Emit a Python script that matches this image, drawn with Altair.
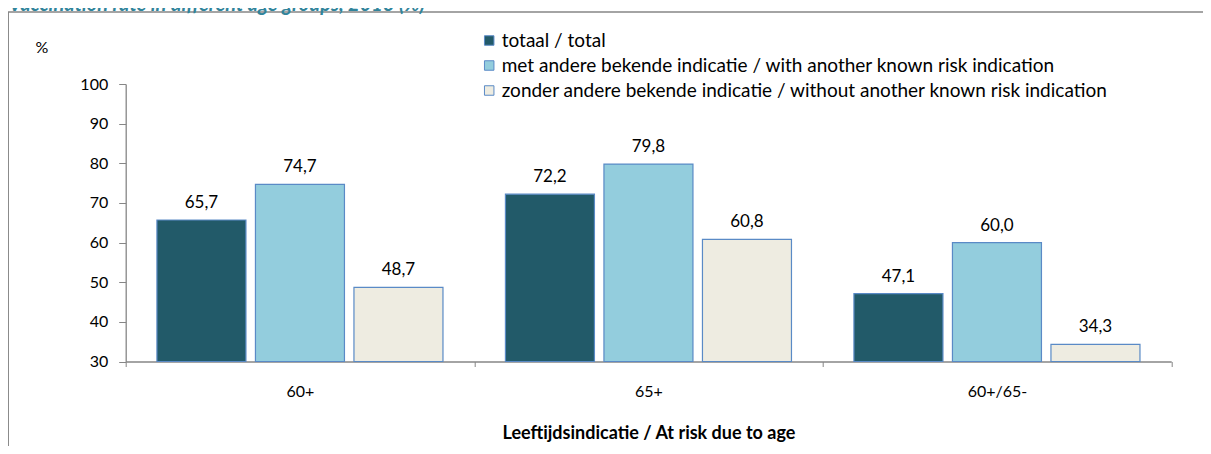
import altair as alt
import pandas as pd

categories = ["60+", "65+", "60+/65-"]
series = [
    "totaal / total",
    "met andere bekende indicatie / with another known risk indication",
    "zonder andere bekende  indicatie / without another known risk indication",
]
totaal = [65.7, 72.2, 47.1]
met = [74.7, 79.8, 60.0]
zonder = [48.7, 60.8, 34.3]
colors = ["#225A69", "#93CDDD", "#EEECE1"]

rows = []
for i, c in enumerate(categories):
    for s, vals in zip(series, [totaal, met, zonder]):
        rows.append({"cat": c, "series": s, "value": vals[i]})
df = pd.DataFrame(rows)

FONT = "Lato"
W, H = 1045.5, 277.5
PL, PT = 117.7, 76
PR = 1195 - PL - W
PB = 438 - PT - H

x_axis = alt.Axis(
    title="Leeftijdsindicatie / At risk due to age",
    titleFont=FONT,
    titleFontSize=18,
    titleFontWeight="bold",
    titleColor="#000000",
    titlePadding=25,
    labelFont=FONT,
    labelFontSize=16,
    labelColor="#000000",
    labelAngle=0,
    labelPadding=17,
    tickBand="extent",
    tickSize=5,
    tickColor="#868686",
    domainColor="#868686",
    domainWidth=1.3,
)
y_axis = alt.Axis(
    title=None,
    values=[30, 40, 50, 60, 70, 80, 90, 100],
    labelFont=FONT,
    labelFontSize=16,
    labelColor="#000000",
    labelPadding=11,
    labelOverlap=False,
    tickSize=7,
    tickColor="#868686",
    domainColor="#868686",
    domainWidth=1.3,
    grid=False,
)


def x_enc():
    return alt.X(
        "cat:N",
        sort=categories,
        scale=alt.Scale(paddingInner=0, paddingOuter=0),
        axis=x_axis,
    )


def xo_enc():
    return alt.XOffset(
        "series:N",
        sort=series,
        scale=alt.Scale(paddingInner=0.0964, paddingOuter=0.317),
    )


def y_enc():
    return alt.Y(
        "value:Q",
        scale=alt.Scale(domain=[30, 100], nice=False, zero=False),
        axis=y_axis,
    )


base = alt.Chart(df)

bars = base.mark_bar(stroke="#5A8AC6", strokeWidth=1.2).encode(
    x=x_enc(),
    xOffset=xo_enc(),
    y=y_enc(),
    y2=alt.datum(30),
    color=alt.Color(
        "series:N",
        sort=series,
        scale=alt.Scale(domain=series, range=colors),
        legend=alt.Legend(
            title=None,
            orient="none",
            legendX=354,
            legendY=-53,
            direction="vertical",
            symbolType="square",
            symbolSize=90,
            symbolStrokeColor="#5A8AC6",
            symbolStrokeWidth=1,
            labelFont=FONT,
            labelFontSize=19,
            labelColor="#000000",
            labelOffset=3,
            rowPadding=5,
            padding=0,
            labelLimit=800,
        ),
    ),
)

labels = base.transform_calculate(
    label="replace(format(datum.value, '.1f'), '.', ',')"
).mark_text(
    font=FONT, fontSize=17, color="#000000", baseline="alphabetic", dy=-12
).encode(
    x=x_enc(),
    xOffset=xo_enc(),
    y=y_enc(),
    text="label:N",
)

one = pd.DataFrame({"k": [0]})

frame = alt.Chart(one).mark_rect(
    fill=None, stroke="#868686", strokeWidth=1.5
).encode(
    x=alt.value(-117.5), x2=alt.value(1150), y=alt.value(-72), y2=alt.value(500)
)

pct = alt.Chart(one).mark_text(
    text="%", font=FONT, fontSize=16, color="#000000", align="center", baseline="middle"
).encode(x=alt.value(-83.7), y=alt.value(-36))

title = alt.Chart(one).mark_text(
    text="Vaccination rate in different age groups, 2013 (%)",
    font=FONT, fontSize=20, fontWeight="bold", fontStyle="italic",
    color="#31849B", align="left", baseline="alphabetic",
).encode(x=alt.value(-117), y=alt.value(-73))

chart = alt.layer(frame, title, pct, bars, labels).properties(
    width=W,
    height=H,
    autosize=alt.AutoSizeParams(type="none"),
    padding={"left": PL, "top": PT, "right": PR, "bottom": PB},
).configure_view(stroke=None).configure_scale(
    bandPaddingInner=0, bandPaddingOuter=0
)

chart.save("out.html", embed_options={"renderer": "svg", "actions": False})
